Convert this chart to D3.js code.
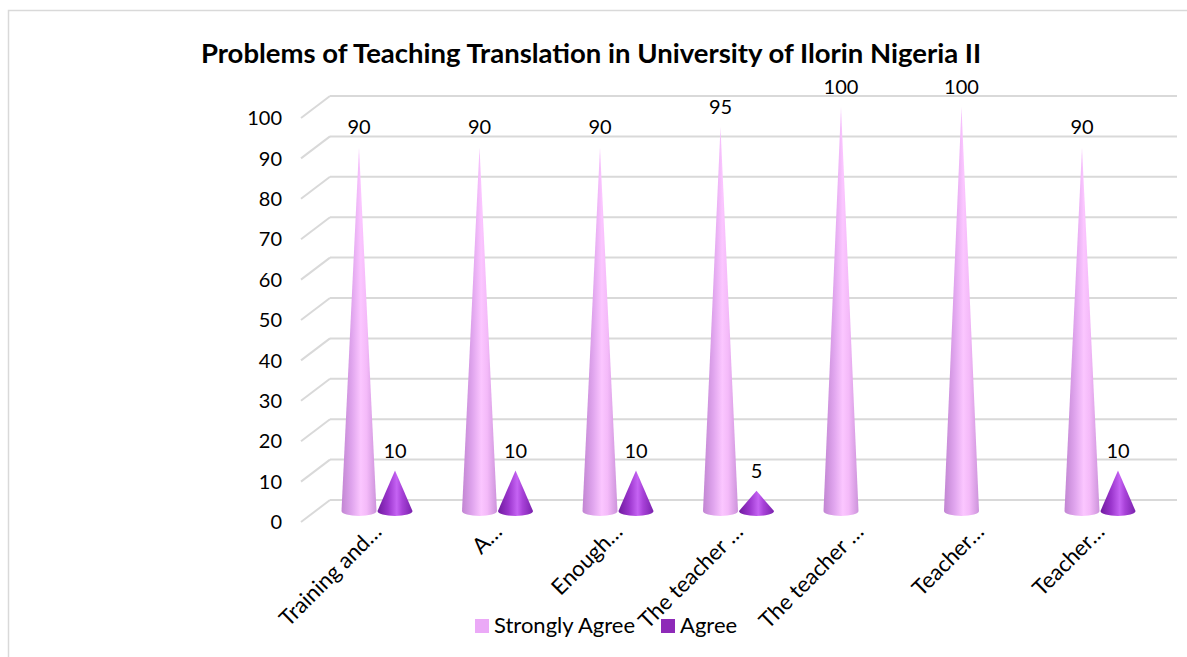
<!DOCTYPE html>
<html>
<head>
<meta charset="utf-8">
<script src="https://cdn.jsdelivr.net/npm/d3@7"></script>
<style>
  body { margin: 0; background: #fff; }
  text { font-family: Lato, "Open Sans", sans-serif; }
</style>
</head>
<body>
<svg id="chart" width="1187" height="657"></svg>
<script>
// data
var categories = ["Training and…", "A…", "Enough…", "The teacher …", "The teacher …", "Teacher…", "Teacher…"];
var seriesNames = ["Strongly Agree", "Agree"];
var stronglyAgree = [90, 90, 90, 95, 100, 100, 90];
var agree = [10, 10, 10, 5, null, null, 10];
var yTicks = [0, 10, 20, 30, 40, 50, 60, 70, 80, 90, 100];
var colors = ["#eba9f7", "#8e2ab8"];

var w = 1187, h = 657;
var svg = d3.select('#chart');

// frame
svg.append("rect")
  .attr("x", 8.5).attr("y", 10.5)
  .attr("width", 1200).attr("height", 700)
  .attr("fill", "none").attr("stroke", "#d9d9d9").attr("stroke-width", 1.5);

// title
svg.append("text")
  .attr("x", 591).attr("y", 63)
  .attr("text-anchor", "middle")
  .attr("font-weight", "bold")
  .attr("font-size", 27.5)
  .attr("fill", "#000")
  .text("Problems of Teaching Translation in University of Ilorin Nigeria II");

// y scale at the front edge, depth offset to back wall
var y = d3.scaleLinear().domain([0, 100]).range([522, 118]);
var depthX = 29, depthY = -22;
var frontX = 301, backRight = 1177;

var grid = svg.append("g");
yTicks.forEach(function(t) {
  grid.append("line")
    .attr("x1", frontX).attr("y1", y(t))
    .attr("x2", frontX + depthX).attr("y2", y(t) + depthY)
    .attr("stroke", "#d9d9d9").attr("stroke-width", 2);
  grid.append("line")
    .attr("x1", frontX + depthX).attr("y1", y(t) + depthY)
    .attr("x2", backRight).attr("y2", y(t) + depthY)
    .attr("stroke", "#d9d9d9").attr("stroke-width", 2);
});

// y axis labels
svg.append("g").selectAll("text")
  .data(yTicks).enter().append("text")
  .attr("x", 282).attr("y", function(d) { return y(d); })
  .attr("dy", "0.36em")
  .attr("text-anchor", "end")
  .attr("font-size", 20)
  .attr("fill", "#000")
  .text(function(d) { return d; });

// x positions
var x = d3.scaleBand().domain(d3.range(categories.length)).range([316.75, 1160.25]);
var xs = d3.scaleBand().domain(seriesNames).range([24.25, 96.25]);

// gradients
var defs = svg.append("defs");
function grad(id, stops) {
  var g = defs.append("linearGradient").attr("id", id)
    .attr("x1", "0%").attr("x2", "100%").attr("y1", "0%").attr("y2", "0%");
  stops.forEach(function(s) {
    g.append("stop").attr("offset", s[0]).attr("stop-color", s[1]);
  });
}
grad("g0", [["0%", "#c185d2"], ["30%", "#e0a5ee"], ["55%", "#fbc6ff"], ["72%", "#f4baf9"], ["100%", "#cc93db"]]);
grad("g1", [["0%", "#6f1a9e"], ["30%", "#9a35cc"], ["55%", "#c563f3"], ["70%", "#a842d8"], ["100%", "#7a22ad"]]);

var rx = 17.5, ry = 5, baseDy = -11;

function conePath(cx, v) {
  var yb = y(0) + baseDy;
  var ya = y(v) + baseDy;
  return "M" + cx + "," + ya +
    "L" + (cx - rx) + "," + yb +
    "A" + rx + "," + ry + " 0 0 0 " + (cx + rx) + "," + yb + "Z";
}

var seriesData = [stronglyAgree, agree];
seriesData.forEach(function(vals, si) {
  var pts = vals.map(function(v, i) { return { i: i, v: v }; })
    .filter(function(d) { return d.v != null; });
  var g = svg.append("g");
  g.selectAll("path")
    .data(pts).enter().append("path")
    .attr("d", function(d) { return conePath(x(d.i) + xs(seriesNames[si]) + xs.bandwidth() / 2, d.v); })
    .attr("fill", "url(#g" + si + ")");
  g.selectAll("text")
    .data(pts).enter().append("text")
    .attr("x", function(d) { return x(d.i) + xs(seriesNames[si]) + xs.bandwidth() / 2; })
    .attr("y", function(d) { return y(d.v) + baseDy - 13; })
    .attr("text-anchor", "middle")
    .attr("font-size", 20)
    .attr("fill", "#000")
    .text(function(d) { return d.v; });
});

// category labels, rotated
svg.append("g").selectAll("text")
  .data(categories).enter().append("text")
  .attr("transform", function(d, i) {
    return "translate(" + (x(i) + x.bandwidth() / 2 + 6) + ",533) rotate(-45)";
  })
  .attr("text-anchor", "end")
  .attr("font-size", 22)
  .attr("fill", "#000")
  .text(function(d) { return d; });

// legend
var legendX = [475, 661];
var legend = svg.append("g");
seriesNames.forEach(function(name, i) {
  legend.append("rect")
    .attr("x", legendX[i]).attr("y", 619)
    .attr("width", 14).attr("height", 14)
    .attr("fill", colors[i]);
  legend.append("text")
    .attr("x", legendX[i] + 19).attr("y", 633)
    .attr("font-size", 22)
    .attr("fill", "#000")
    .text(name);
});
</script>
</body>
</html>
